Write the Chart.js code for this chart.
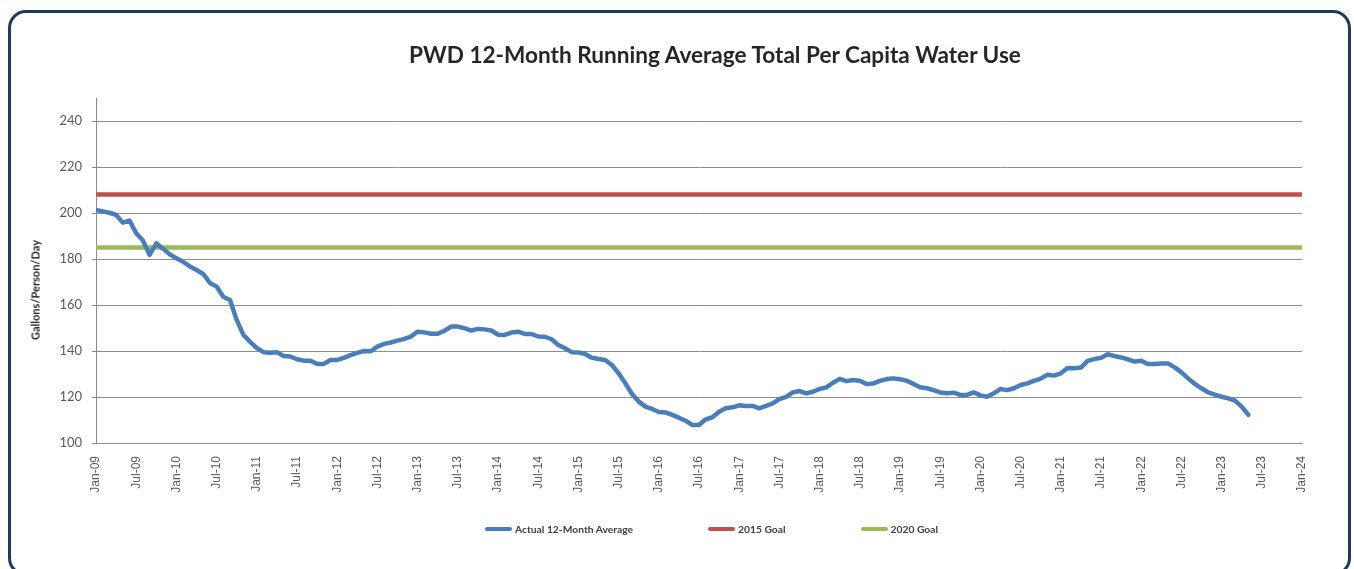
<!DOCTYPE html>
<html>
<head>
<meta charset="utf-8">
<script src="https://cdn.jsdelivr.net/npm/chart.js@4.4.1/dist/chart.umd.min.js"></script>
<style>
  html, body { margin: 0; padding: 0; background: #ffffff; width: 1354px; height: 569px; overflow: hidden; }
  #frame { position: absolute; left: 8px; top: 10px; width: 1343px; height: 566px; border: 3px solid #1f3a5f; border-radius: 18px; box-sizing: border-box; }
  #wrap { position: absolute; left: 0; top: 0; width: 1354px; height: 569px; }
  #title { position: absolute; left: 409px; width: 600px; top: 41px; text-align: center; white-space: nowrap; font-family: Lato, "Open Sans", sans-serif; font-weight: bold; font-size: 22.6px; line-height: 28px; color: #262626; }
  #ytitle { position: absolute; left: 35px; top: 290px; transform: translate(-50%, -50%) rotate(-90deg); white-space: nowrap; font-family: Lato, "Open Sans", sans-serif; font-weight: bold; font-size: 11px; color: #262626; }
  #legend { position: absolute; left: 485px; top: 523px; display: flex; align-items: center; font-family: Lato, "Open Sans", sans-serif; font-weight: bold; font-size: 10.3px; color: #404040; }
  .item { display: flex; align-items: center; margin-right: 75px; white-space: nowrap; }
  .swatch { width: 27px; height: 4px; border-radius: 2px; margin-right: 3px; }
</style>
</head>
<body>
<div id="frame"></div>
<div id="wrap"><canvas id="c" width="1354" height="569"></canvas></div>
<div id="title"></div>
<div id="ytitle"></div>
<div id="legend"></div>
<script>
// Month index 0 = Jan-09, one value per month through May-23
const actualValues = [
  201.3, 200.7, 200.1, 199.2, 195.8, 196.7, 191.2, 188.0, 181.8, 186.8,
  184.5, 182.0, 180.3, 178.8, 176.8, 175.2, 173.5, 169.6, 168.0, 163.6,
  162.2, 153.5, 147.0, 144.0, 141.3, 139.5, 139.2, 139.5, 137.8, 137.6,
  136.4, 135.8, 135.8, 134.4, 134.4, 136.1, 136.1, 137.0, 138.2, 139.2,
  140.0, 139.9, 141.9, 143.1, 143.7, 144.5, 145.3, 146.3, 148.4, 148.1,
  147.5, 147.5, 148.8, 150.6, 150.6, 149.9, 148.9, 149.6, 149.4, 148.9,
  147.1, 147.0, 148.0, 148.4, 147.4, 147.4, 146.3, 146.2, 145.1, 142.6,
  141.2, 139.5, 139.4, 138.7, 137.1, 136.5, 136.1, 133.9, 130.3, 126.0,
  121.3, 118.0, 115.8, 114.8, 113.5, 113.3, 112.2, 111.0, 109.7, 107.8,
  107.8, 110.3, 111.2, 113.6, 115.1, 115.5, 116.4, 116.1, 116.1, 115.1,
  116.1, 117.2, 119.1, 120.1, 122.0, 122.6, 121.6, 122.3, 123.5, 124.2,
  126.2, 127.9, 126.9, 127.4, 127.1, 125.6, 125.9, 127.0, 127.8, 128.1,
  127.7, 127.1, 125.7, 124.2, 123.8, 123.0, 122.0, 121.6, 121.9, 120.9,
  120.9, 122.0, 120.7, 120.1, 121.6, 123.5, 123.0, 123.8, 125.2, 125.9,
  127.0, 128.0, 129.7, 129.3, 130.3, 132.6, 132.5, 132.8, 135.7, 136.5,
  137.0, 138.6, 137.8, 137.2, 136.4, 135.4, 135.8, 134.3, 134.3, 134.6,
  134.6, 132.9, 130.7, 128.1, 125.7, 123.8, 122.0, 121.0, 120.1, 119.4,
  118.4, 115.8, 112.2
];
const goal2015 = 208;
const goal2020 = 185;
const tickLabels = ['Jan-09','Jul-09','Jan-10','Jul-10','Jan-11','Jul-11','Jan-12','Jul-12',
  'Jan-13','Jul-13','Jan-14','Jul-14','Jan-15','Jul-15','Jan-16','Jul-16','Jan-17','Jul-17',
  'Jan-18','Jul-18','Jan-19','Jul-19','Jan-20','Jul-20','Jan-21','Jul-21','Jan-22','Jul-22',
  'Jan-23','Jul-23','Jan-24'];
const seriesNames = ['Actual 12-Month Average', '2015 Goal', '2020 Goal'];
const seriesColors = ['#4a7ebb', '#c0504d', '#9bbb59'];
const chartTitle = 'PWD 12-Month Running Average Total Per Capita Water Use';
const yAxisTitle = 'Gallons/Person/Day';

const monthsSpan = (tickLabels.length - 1) * 6;
const actualPoints = actualValues.map((v, i) => ({ x: i, y: v }));
const goal2015Points = [{ x: 0, y: goal2015 }, { x: monthsSpan, y: goal2015 }];
const goal2020Points = [{ x: 0, y: goal2020 }, { x: monthsSpan, y: goal2020 }];

const gridColor = '#8c8c8c';

new Chart(document.getElementById('c'), {
  type: 'line',
  data: {
    datasets: [
      { label: seriesNames[0], data: actualPoints, borderColor: seriesColors[0], borderWidth: 4.5, pointRadius: 0, tension: 0, borderJoinStyle: 'round', borderCapStyle: 'round' },
      { label: seriesNames[1], data: goal2015Points, borderColor: seriesColors[1], borderWidth: 4.5, pointRadius: 0 },
      { label: seriesNames[2], data: goal2020Points, borderColor: seriesColors[2], borderWidth: 4.5, pointRadius: 0 }
    ]
  },
  options: {
    responsive: false,
    animation: false,
    layout: { padding: { left: 22, right: 52, top: 98, bottom: 76 } },
    plugins: {
      legend: { display: false },
      tooltip: { enabled: false },
      title: { display: false }
    },
    scales: {
      x: {
        type: 'linear',
        min: 0,
        max: monthsSpan,
        grid: { display: false },
        border: { display: true, color: gridColor, width: 1 },
        ticks: {
          stepSize: 6,
          autoSkip: false,
          maxRotation: 90,
          minRotation: 90,
          padding: 5,
          color: '#595959',
          font: { family: 'Liberation Sans', size: 12 },
          callback: (v) => tickLabels[Math.round(v / 6)]
        },
        afterFit: (s) => { s.height = 50; }
      },
      y: {
        min: 100,
        max: 250,
        afterBuildTicks: (s) => { s.ticks = s.ticks.filter(t => t.value <= 240); },
        grid: { color: gridColor, lineWidth: 1, drawTicks: true, tickLength: 4 },
        border: { display: true, color: gridColor, width: 1 },
        ticks: {
          stepSize: 20,
          padding: 10,
          color: '#595959',
          font: { family: 'Lato', size: 13 }
        },
        title: { display: false },
        afterFit: (s) => { s.width = 74; }
      }
    }
  }
});

document.getElementById('title').textContent = chartTitle;
document.getElementById('ytitle').textContent = yAxisTitle;

// HTML legend built from the series definitions
const legend = document.getElementById('legend');
seriesNames.forEach((name, i) => {
  const item = document.createElement('div');
  item.className = 'item';
  const sw = document.createElement('span');
  sw.className = 'swatch';
  sw.style.background = seriesColors[i];
  const txt = document.createElement('span');
  txt.textContent = name;
  item.appendChild(sw);
  item.appendChild(txt);
  legend.appendChild(item);
});
</script>
</body>
</html>
